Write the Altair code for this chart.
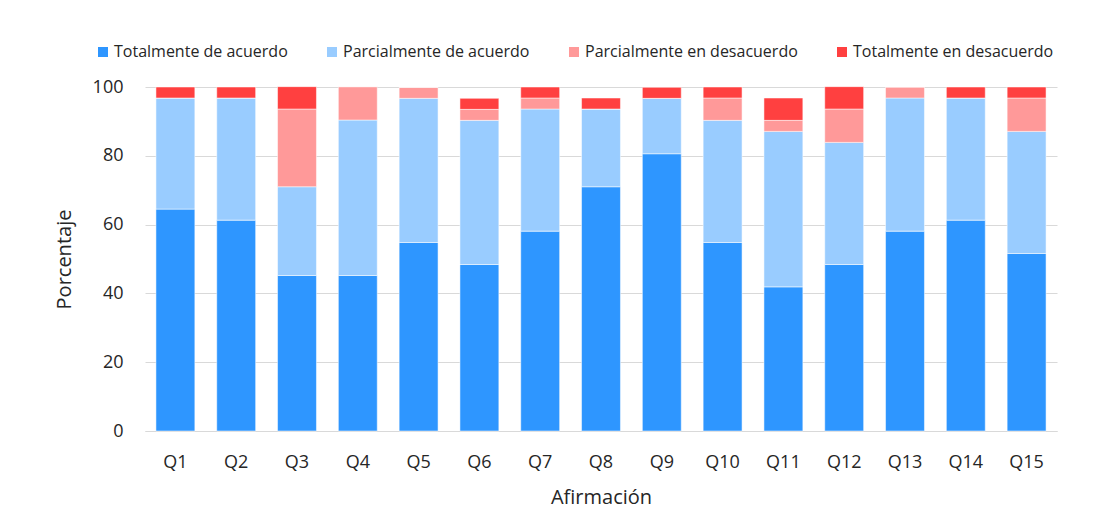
import altair as alt
import pandas as pd

# Responses per statement, in percent of respondents (31 people)
questions = ["Q1", "Q2", "Q3", "Q4", "Q5", "Q6", "Q7", "Q8", "Q9", "Q10",
             "Q11", "Q12", "Q13", "Q14", "Q15"]
totalmente_acuerdo = [64.5, 61.3, 45.2, 45.2, 54.8, 48.4, 58.1, 71.0, 80.6, 54.8,
                      41.9, 48.4, 58.1, 61.3, 51.6]
parcialmente_acuerdo = [32.3, 35.5, 25.8, 45.2, 41.9, 41.9, 35.5, 22.6, 16.1, 35.5,
                        45.2, 35.5, 38.7, 35.5, 35.5]
parcialmente_desacuerdo = [0.0, 0.0, 22.6, 9.7, 3.2, 3.2, 3.2, 0.0, 0.0, 6.5,
                           3.2, 9.7, 3.2, 0.0, 9.7]
totalmente_desacuerdo = [3.2, 3.2, 6.5, 0.0, 0.0, 3.2, 3.2, 3.2, 3.2, 3.2,
                         6.5, 6.5, 0.0, 3.2, 3.2]

categories = ["Totalmente de acuerdo", "Parcialmente de acuerdo",
              "Parcialmente en desacuerdo", "Totalmente en desacuerdo"]
colors = ["#2E96FF", "#99CCFF", "#FF9999", "#FF4040"]
series = [totalmente_acuerdo, parcialmente_acuerdo,
          parcialmente_desacuerdo, totalmente_desacuerdo]

rows = []
for order, (cat, vals) in enumerate(zip(categories, series)):
    for q, v in zip(questions, vals):
        rows.append({"Afirmación": q, "Respuesta": cat, "Porcentaje": v, "orden": order})
df = pd.DataFrame(rows)

font = "Open Sans"

chart = alt.Chart(df).mark_bar(
    stroke="white", strokeWidth=1, strokeOpacity=0.5
).encode(
    x=alt.X("Afirmación:N", sort=questions,
            scale=alt.Scale(paddingInner=0.36, paddingOuter=0.18),
            axis=alt.Axis(title="Afirmación", labelAngle=0, labelFontSize=18,
                          labelPadding=22, titleFontSize=20, titlePadding=16,
                          ticks=False, domain=True, domainColor="#d9d9d9",
                          labelColor="#262626", titleColor="#262626",
                          titleFontWeight="normal", labelFont=font, titleFont=font)),
    y=alt.Y("Porcentaje:Q", stack="zero",
            scale=alt.Scale(domain=[0, 100]),
            axis=alt.Axis(title="Porcentaje", values=[0, 20, 40, 60, 80, 100],
                          labelFontSize=18, labelPadding=22, titleFontSize=20,
                          titlePadding=18, ticks=False, domain=False,
                          gridColor="#d9d9d9", gridWidth=1.2,
                          labelColor="#262626", titleColor="#262626",
                          titleFontWeight="normal", labelFont=font, titleFont=font)),
    color=alt.Color("Respuesta:N", sort=categories,
                    scale=alt.Scale(domain=categories, range=colors),
                    legend=alt.Legend(title=None, orient="none", direction="horizontal",
                                      legendX=-50, legendY=-43, symbolType="square",
                                      symbolSize=100, symbolStrokeWidth=0,
                                      labelFontSize=16, labelFont=font, labelLimit=400,
                                      labelColor="#262626", columnPadding=36,
                                      symbolOffset=0, labelOffset=3)),
    order=alt.Order("orden:Q", sort="ascending"),
).properties(
    width=912, height=344,
    autosize=alt.AutoSizeParams(type="none"),
    padding={"left": 145, "top": 87, "right": 36, "bottom": 82},
).configure_view(stroke=None)

chart.save("out.html", embed_options={"renderer": "svg", "actions": False})
